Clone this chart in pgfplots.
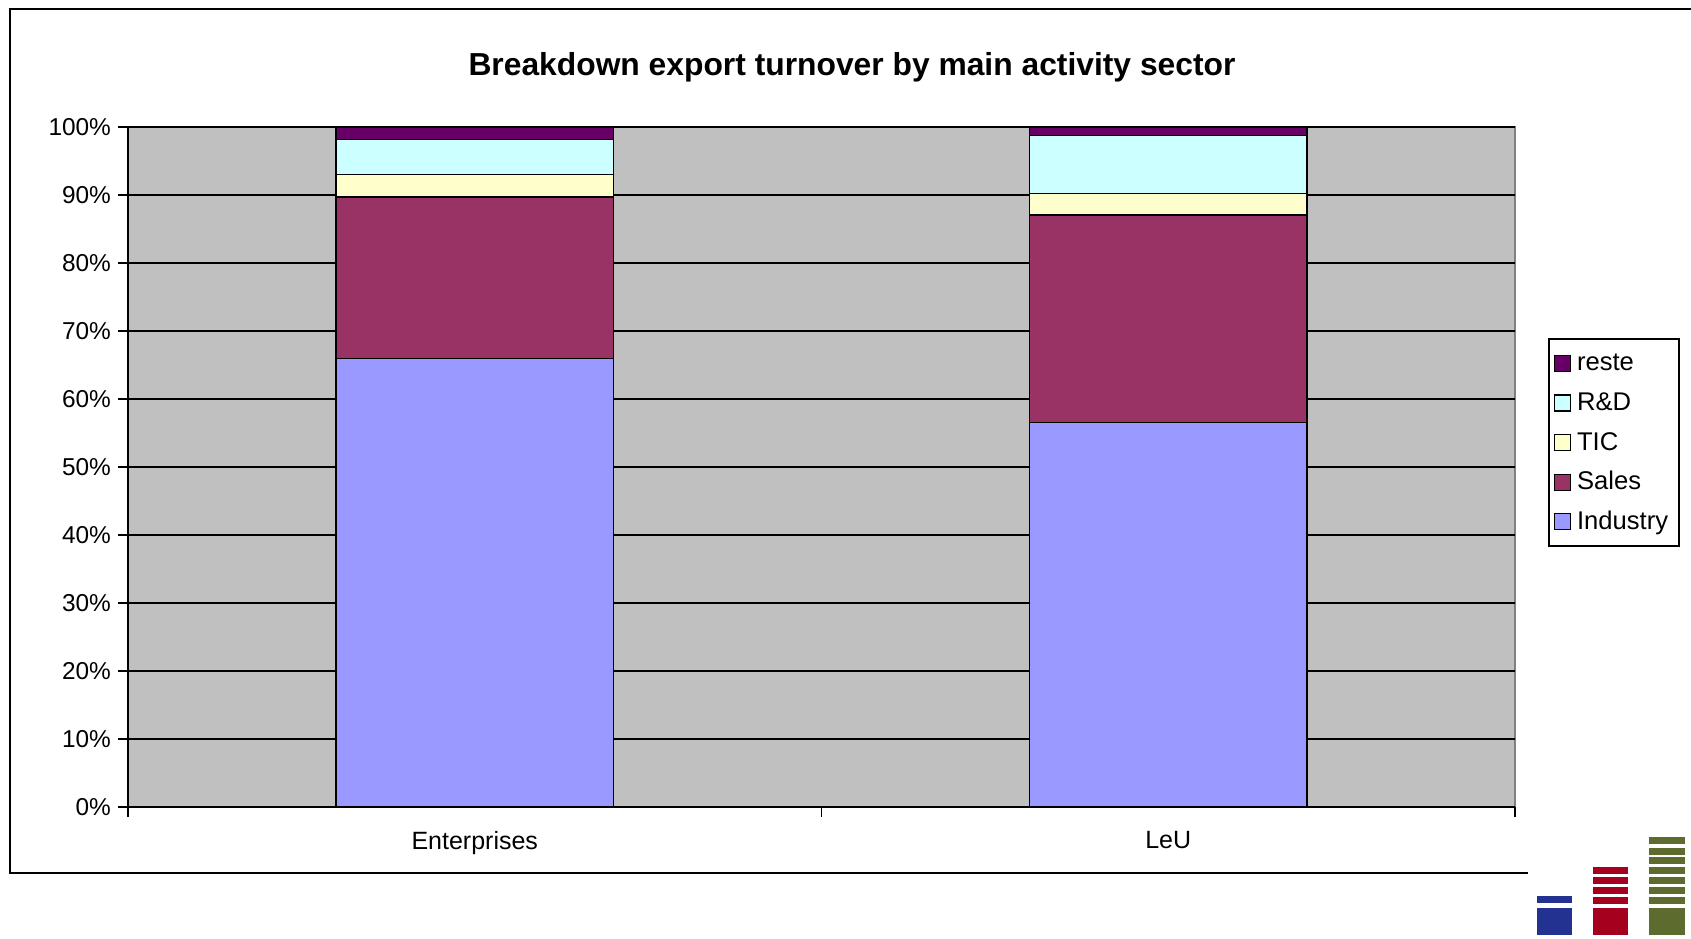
\documentclass[border=0pt]{standalone}
\usepackage{pgfplots}
\pgfplotsset{compat=1.18}
\usepackage{fontspec}
\setmainfont{Liberation Sans}
\definecolor{bggray}{HTML}{C0C0C0}
\definecolor{cInd}{HTML}{9999FF}
\definecolor{cSal}{HTML}{993366}
\definecolor{cTic}{HTML}{FFFFCC}
\definecolor{cRD}{HTML}{CCFFFF}
\definecolor{cRes}{HTML}{660066}
\definecolor{logoB}{HTML}{233190}
\definecolor{logoR}{HTML}{A5001E}
\definecolor{logoG}{HTML}{5E6B2F}
\begin{document}
\begin{tikzpicture}
% page: 1691x938 px, 1px = 0.5pt, origin top left
\path[use as bounding box] (0,0) rectangle (845.5pt,-469pt);
% outer frame (right side cut off)
\draw[line width=1pt] (845.5pt,-4.5pt) -- (5pt,-4.5pt) -- (5pt,-436.5pt) -- (764pt,-436.5pt);
% title
\node[anchor=base, font=\fontsize{15.9}{18}\selectfont\bfseries] at (426pt,-37.5pt)
  {Breakdown export turnover by main activity sector};
\begin{axis}[
    at={(64pt,-403.5pt)}, anchor=south west,
    scale only axis,
    width=693.5pt, height=340pt,
    ybar stacked,
    bar width=0.4,
    xmin=-0.5, xmax=1.5,
    ymin=0, ymax=100,
    xtick={0,1},
    xticklabels={Enterprises, LeU},
    minor xtick={-0.5,0.5,1.5},
    every major x tick/.style={draw=none},
    ytick={0,10,...,100},
    yticklabel={\pgfmathprintnumber{\tick}\%},
    tick align=outside,
    major tick length=5pt, minor tick length=5pt,
    axis x line*=bottom, axis y line*=left,
    axis line style={black, line width=1pt},
    every tick/.style={black, line width=0.8pt},
    axis background/.style={fill=bggray, draw=gray, line width=1pt},
    ymajorgrids,
    grid style={black, line width=0.9pt},
    y tick label style={font=\fontsize{12.2}{14}\selectfont},
    x tick label style={font=\fontsize{12.5}{14}\selectfont, yshift=-3.5pt},
    /pgf/number format/assume math mode=true,
    every axis plot/.append style={draw=black, line width=0.6pt},
    legend image code/.code={\draw[#1, draw=black, line width=0.6pt] (1.2pt,-4pt) rectangle (9.2pt,4pt);},
    reverse legend,
    legend cell align=left,
    legend style={at={(1.0238,0.6897)}, anchor=north west, draw=black, line width=0.8pt,
      font=\fontsize{12.8}{15}\selectfont, inner xsep=2.5pt, inner ysep=5.5pt, row sep=6.3pt,
      nodes={inner ysep=1pt, inner xsep=3pt, text height=9.5pt, text depth=2pt}},
]
\addplot[fill=cInd] coordinates {(0,66.0) (1,56.5)};
\addplot[fill=cSal] coordinates {(0,23.7) (1,30.55)};
\addplot[fill=cTic] coordinates {(0,3.3) (1,3.2)};
\addplot[fill=cRD] coordinates {(0,5.2) (1,8.55)};
\addplot[fill=cRes] coordinates {(0,1.8) (1,1.2)};
\legend{Industry, Sales, TIC, R\&D, reste}
\end{axis}
% logo, bottom right
\fill[logoB] (768.5pt,-454pt) rectangle (786pt,-467.5pt);
\fill[logoB] (768.5pt,-448pt) rectangle (786pt,-451.5pt);
\fill[logoR] (796.5pt,-454pt) rectangle (814pt,-467.5pt);
\foreach \y in {433.5,438.5,443.5,448.5}
  \fill[logoR] (796.5pt,-\y pt) rectangle (814pt,-\y pt-3.5pt);
\fill[logoG] (824.5pt,-454pt) rectangle (842.5pt,-467.5pt);
\foreach \y in {418.5,424,428.5,433.5,438.5,443.5,448.5}
  \fill[logoG] (824.5pt,-\y pt) rectangle (842.5pt,-\y pt-3.5pt);
\end{tikzpicture}
\end{document}
